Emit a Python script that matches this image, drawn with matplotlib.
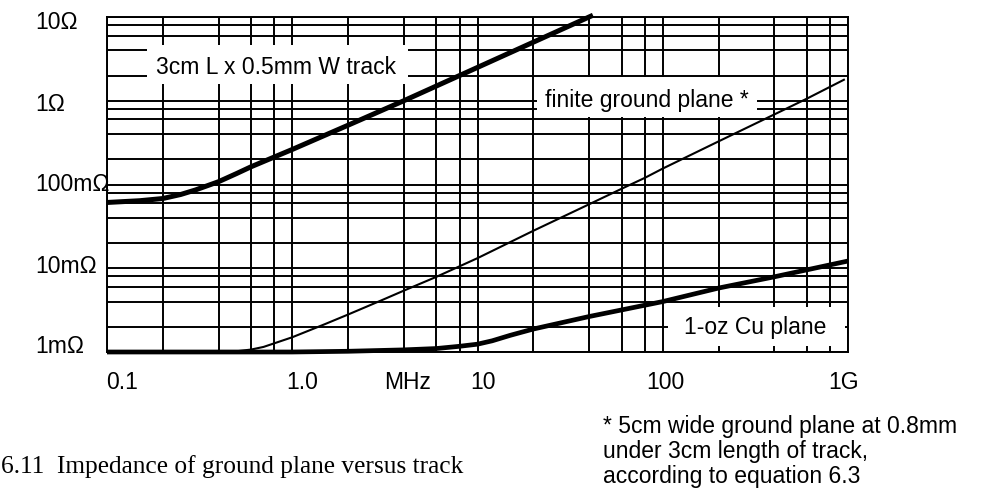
import matplotlib
matplotlib.use('Agg')
import matplotlib.pyplot as plt
from matplotlib.ticker import FixedLocator, LogLocator, NullFormatter
from matplotlib.transforms import offset_copy
from matplotlib.patches import Rectangle

plt.rcParams['font.family'] = ['Liberation Sans', 'DejaVu Sans']

# ---- data ----
track_freq_mhz = [0.1, 0.15, 0.2, 0.25, 0.3, 0.4, 0.5, 0.6, 0.8, 1, 2, 4, 10, 20, 42]
track_ohm = [0.061, 0.064, 0.068, 0.076, 0.086, 0.108, 0.135, 0.163, 0.213, 0.262,
             0.51, 1.0, 2.5, 5.0, 10.5]

finite_freq_mhz = [0.4, 0.5, 0.6, 0.7, 0.8, 1, 1.5, 2, 3, 4, 6, 10, 20, 40, 60, 80,
                   100, 200, 400, 600, 950]
finite_mohm = [1.0, 1.02, 1.07, 1.15, 1.27, 1.5, 2.15, 2.8, 4.1, 5.4, 7.9, 13.2, 28,
               58, 89, 120, 155, 327, 686, 1060, 1780]

cu_freq_mhz = [0.1, 1, 2, 4, 6, 8, 10, 12, 15, 20, 40, 100, 200, 400, 1000]
cu_mohm = [1.0, 1.0, 1.02, 1.06, 1.1, 1.17, 1.24, 1.36, 1.58, 1.88, 2.65, 4.0, 5.8,
           7.9, 12.2]

xtick_values = [0.1, 1, 10, 100, 1000]
xtick_labels = ['0.1', '1.0', '10', '100', '1G']
ytick_values = [10, 1, 0.1, 0.01, 0.001]
ytick_labels = ['10Ω', '1Ω', '100mΩ', '10mΩ', '1mΩ']
grid_subs = [2, 4, 6, 8]

track_label = '3cm L x 0.5mm W track'
finite_label = 'finite ground plane *'
cu_label = '1-oz Cu plane'
caption = '6.11  Impedance of ground plane versus track'
footnote_lines = ['* 5cm wide ground plane at 0.8mm',
                  'under 3cm length of track,',
                  'according to equation 6.3']

# ---- figure ----
W, H = 1000, 499
fig = plt.figure(figsize=(W / 100, H / 100), dpi=100)
L, R, T, B = 107, 848, 17, 352
ax = fig.add_axes([L / W, 1 - B / H, (R - L) / W, (B - T) / H])

ax.set_xscale('log')
ax.set_yscale('log')
ax.set_xlim(0.1, 1000)
ax.set_ylim(0.001, 10)

ax.xaxis.set_major_locator(FixedLocator(xtick_values))
ax.yaxis.set_major_locator(FixedLocator(ytick_values))
ax.xaxis.set_minor_locator(LogLocator(base=10, subs=grid_subs, numticks=30))
ax.yaxis.set_minor_locator(LogLocator(base=10, subs=grid_subs, numticks=30))
ax.xaxis.set_minor_formatter(NullFormatter())
ax.yaxis.set_minor_formatter(NullFormatter())
ax.tick_params(which='both', length=0, labelbottom=False, labelleft=False)
ax.grid(which='both', color='black', lw=1.4, zorder=1)
ax.set_axisbelow(True)
for s in ax.spines.values():
    s.set_linewidth(1.4)
    s.set_color('black')

# white boxes behind the in-plot labels (axes fraction)
box_specs = [
    ((147 - L) / (R - L), (B - 84) / (B - T), (408 - 147) / (R - L), (84 - 45) / (B - T)),
    ((537 - L) / (R - L), (B - 117) / (B - T), (757 - 537) / (R - L), (117 - 77) / (B - T)),
    ((668 - L) / (R - L), (B - 346) / (B - T), (845 - 668) / (R - L), (346 - 307) / (B - T)),
]
for (bx, by, bw, bh) in box_specs:
    ax.add_patch(Rectangle((bx, by), bw, bh, transform=ax.transAxes,
                           facecolor='white', edgecolor='none', zorder=2))

fs = 16.5
ax.text((276.5 - L) / (R - L), (B - 74) / (B - T), track_label, transform=ax.transAxes,
        ha='center', va='baseline', fontsize=fs, zorder=3)
ax.text((646.5 - L) / (R - L), (B - 106.7) / (B - T), finite_label, transform=ax.transAxes,
        ha='center', va='baseline', fontsize=fs, zorder=3)
ax.text((755.5 - L) / (R - L), (B - 334.3) / (B - T), cu_label, transform=ax.transAxes,
        ha='center', va='baseline', fontsize=fs, zorder=3)

# curves
ax.plot(track_freq_mhz, track_ohm, color='black', lw=3.6, zorder=4, clip_on=False,
        solid_capstyle='butt', solid_joinstyle='round')
ax.plot(finite_freq_mhz, [v / 1000 for v in finite_mohm], color='black', lw=1.5, zorder=4,
        solid_joinstyle='round')
ax.plot(cu_freq_mhz, [v / 1000 for v in cu_mohm], color='black', lw=3.4, zorder=4,
        clip_on=False, solid_capstyle='butt', solid_joinstyle='round')

# y tick labels (left aligned)
y_label_offsets_px = [5.5, 3.8, 0.2, -2.2, -5.2]
for val, lab, off in zip(ytick_values, ytick_labels, y_label_offsets_px):
    tr = offset_copy(ax.get_yaxis_transform(), fig=fig, x=0, y=-off, units='dots')
    ax.text((35 - L) / (R - L), val, lab, transform=tr, ha='left', va='center',
            fontsize=fs, clip_on=False)

# x tick labels
x_label_offsets_px = [14.7, 10, 6, 2.7, -4]
x_lab_y = (B - 382.5) / (B - T)
for val, lab, off in zip(xtick_values, xtick_labels, x_label_offsets_px):
    tr = offset_copy(ax.get_xaxis_transform(), fig=fig, x=off, y=0, units='dots')
    ax.text(val, x_lab_y, lab, transform=tr, ha='center', va='center', fontsize=fs,
            clip_on=False)
ax.text((408 - L) / (R - L), x_lab_y, 'MHz', transform=ax.transAxes, ha='center',
        va='center', fontsize=fs, clip_on=False)

# caption
fig.text(1 / W, 1 - 472.7 / H, caption, ha='left', va='baseline',
         family=['Liberation Serif', 'DejaVu Serif'], fontsize=18.3)

# footnote
for i, line in enumerate(footnote_lines):
    fig.text(603 / W, 1 - (433 + 25 * i) / H, line, ha='left', va='baseline', fontsize=fs)

fig.savefig('out.png', dpi=100)
